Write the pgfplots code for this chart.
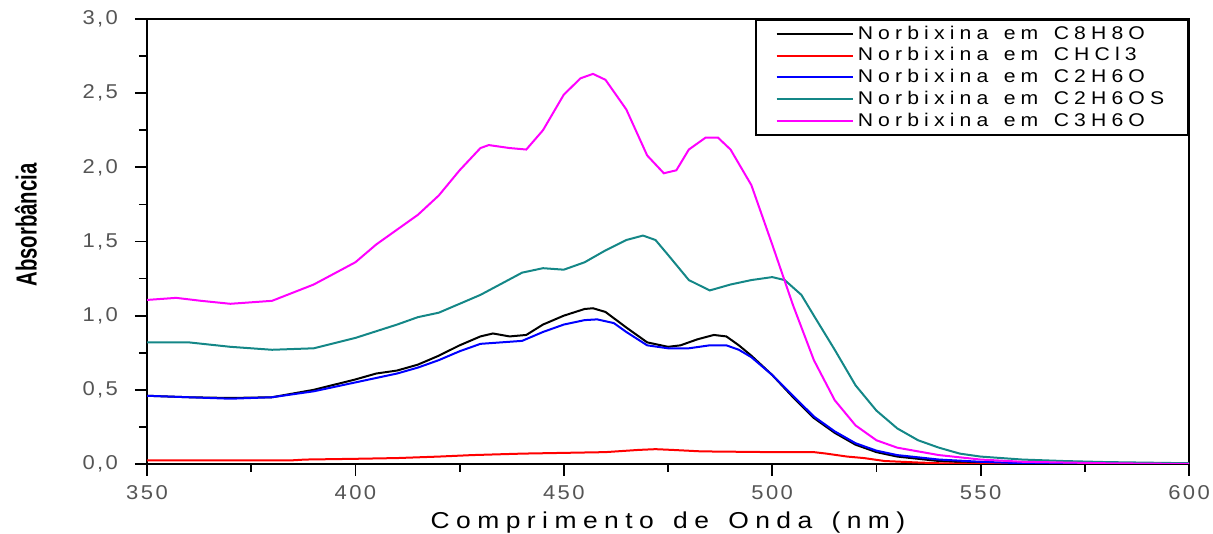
\documentclass[border=0pt]{standalone}
\usepackage{fontspec}
\setmainfont{Liberation Sans}
\newfontfamily\spaced[LetterSpace=28,WordSpace=1.4,FakeStretch=1.15]{Liberation Sans}
\newfontfamily\tickf[LetterSpace=12,FakeStretch=1.1]{Liberation Sans}
\usepackage{graphicx}
\usepackage{pgfplots}
\pgfplotsset{compat=1.18}
\definecolor{tealc}{RGB}{20,135,135}
\definecolor{magc}{RGB}{255,0,255}
\definecolor{tickg}{RGB}{85,85,85}
\begin{document}
\begin{tikzpicture}
\begin{axis}[
  scale only axis,
  width=521pt, height=222.5pt,
  xmin=350, xmax=600, ymin=0, ymax=3,
  xtick={350,400,...,600},
  ytick={0,0.5,...,3},
  minor x tick num=1, minor y tick num=1,
  tick pos=left, tick align=outside,
  major tick length=6pt, minor tick length=4pt,
  axis line style={line width=1pt},
  every tick/.style={black, line width=0.9pt},
  /pgf/number format/assume math mode=true,
  ticklabel style={font=\tickf\fontsize{10}{11}\selectfont, text=tickg},
  yticklabel style={xshift=-5pt, /pgf/number format/.cd, fixed, fixed zerofill, precision=1, use comma},
  xticklabel style={yshift=-1pt, /pgf/number format/.cd, fixed, precision=0, 1000 sep={}},
  xlabel={\spaced\fontsize{11.5}{12}\selectfont Comprimento de Onda (nm)},
  ylabel={\scalebox{0.7}[1]{\fontsize{14.5}{14}\selectfont\bfseries Absorbância}},
  every axis y label/.style={at={(axis description cs:0,0.537)}, rotate=90, anchor=center, yshift=60.5pt},
  every axis x label/.style={at={(axis description cs:0.5,0)}, anchor=center, yshift=-29.5pt},
  legend style={at={(1,1)}, anchor=north east, draw=black, line width=0.8pt,
    font=\spaced\fontsize{9.2}{10}\selectfont, cells={anchor=west}, row sep=-1.3pt,
    inner xsep=10pt, inner ysep=1pt},
  legend image code/.code={\draw[#1, line width=1pt] (0pt,0pt) -- (38pt,0pt);},
  every axis plot/.append style={line width=1pt},
]
\addplot[black] coordinates {
(350,0.46)(360,0.45)(370,0.445)(380,0.45)(390,0.50)(400,0.57)(405,0.61)(410,0.63)(415,0.67)(420,0.73)(425,0.80)(430,0.86)(433,0.88)(437,0.86)(441,0.87)(445,0.94)(450,1.00)(455,1.045)(457,1.05)(460,1.025)(465,0.92)(470,0.82)(475,0.79)(478,0.80)(482,0.84)(486,0.87)(489,0.86)(492,0.80)(495,0.73)(500,0.60)(505,0.45)(510,0.31)(515,0.21)(520,0.13)(525,0.08)(530,0.05)(540,0.02)(550,0.007)(560,0.0)(600,0.0)};
\addlegendentry{Norbixina em C8H8O}
\addplot[red] coordinates {
(350,0.025)(385,0.025)(388,0.03)(400,0.035)(410,0.04)(420,0.05)(428,0.06)(440,0.07)(460,0.08)(468,0.095)(472,0.10)(476,0.095)(483,0.085)(500,0.08)(510,0.08)(513,0.07)(518,0.05)(522,0.04)(527,0.02)(535,0.01)(540,0.005)(550,0.0)(600,0.0)};
\addlegendentry{Norbixina em CHCl3}
\addplot[blue] coordinates {
(350,0.46)(360,0.45)(370,0.44)(380,0.45)(390,0.49)(400,0.55)(410,0.61)(415,0.65)(420,0.70)(425,0.76)(430,0.81)(435,0.82)(440,0.83)(445,0.89)(450,0.94)(455,0.97)(458,0.975)(462,0.95)(465,0.89)(470,0.80)(475,0.78)(480,0.78)(485,0.80)(489,0.80)(492,0.77)(495,0.72)(500,0.60)(505,0.46)(510,0.32)(515,0.22)(520,0.14)(525,0.09)(530,0.06)(540,0.03)(550,0.015)(560,0.005)(600,0.0)};
\addlegendentry{Norbixina em C2H6O}
\addplot[tealc] coordinates {
(350,0.82)(360,0.82)(370,0.79)(380,0.77)(390,0.78)(400,0.85)(410,0.94)(415,0.99)(420,1.02)(430,1.14)(440,1.29)(445,1.32)(450,1.31)(455,1.36)(460,1.44)(465,1.51)(469,1.54)(472,1.51)(475,1.41)(480,1.24)(485,1.17)(490,1.21)(495,1.24)(500,1.26)(503,1.24)(507,1.14)(510,1.00)(515,0.77)(520,0.53)(525,0.36)(530,0.24)(535,0.16)(540,0.11)(545,0.07)(550,0.05)(560,0.03)(570,0.02)(580,0.013)(600,0.005)};
\addlegendentry{Norbixina em C2H6OS}
\addplot[magc] coordinates {
(350,1.106)(357,1.12)(363,1.10)(370,1.08)(380,1.10)(390,1.21)(400,1.36)(405,1.48)(415,1.68)(420,1.81)(425,1.98)(430,2.13)(432,2.15)(437,2.13)(441,2.12)(445,2.25)(450,2.49)(454,2.60)(457,2.63)(460,2.59)(465,2.39)(470,2.08)(474,1.96)(477,1.98)(480,2.12)(484,2.20)(487,2.20)(490,2.12)(495,1.88)(500,1.48)(505,1.07)(510,0.70)(515,0.43)(520,0.26)(525,0.16)(530,0.11)(540,0.06)(550,0.03)(560,0.015)(580,0.005)(600,0.0)};
\addlegendentry{Norbixina em C3H6O}
\end{axis}
\pgfresetboundingbox
\path ([xshift=-73.5pt,yshift=-35pt]current axis.south west) rectangle ([xshift=12pt,yshift=9.5pt]current axis.north east);
\end{tikzpicture}
\end{document}
